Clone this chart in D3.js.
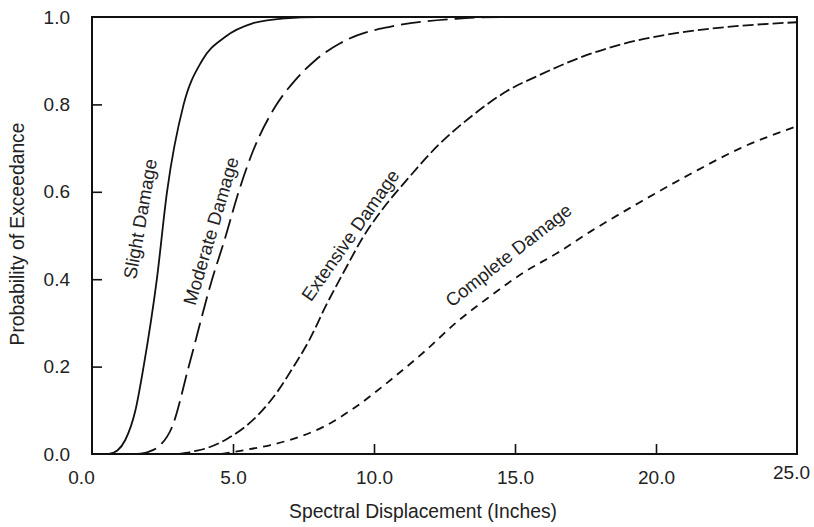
<!DOCTYPE html>
<html>
<head>
<meta charset="utf-8">
<script src="https://cdn.jsdelivr.net/npm/d3@7"></script>
<style>
	body { margin: 0; background: #fff; }
	svg text { font-family: "Liberation Sans", Arial, sans-serif; fill: #222; }
	.curve { fill: none; stroke: #111; stroke-width: 1.8; }
	.frame { fill: none; stroke: #111; stroke-width: 2; }
	.tick line { stroke: #111; stroke-width: 1.6; }
</style>
</head>
<body>
<svg id="chart"></svg>
<script>
// values (spectral displacement in inches, probability)
const slightSd = [0.6, 0.9, 1.18, 1.54, 1.83, 2.3, 2.66, 3.25, 3.9, 4.73, 5.67, 6.86, 8.0, 25];
const slightP  = [0, 0.008, 0.032, 0.10, 0.2, 0.4, 0.6, 0.8, 0.9, 0.955, 0.985, 0.997, 1.0, 1.0];

const moderateSd = [1.6, 2.0, 2.36, 2.84, 3.43, 4.26, 4.7, 5.2, 5.72, 6.5, 7.2, 7.9, 8.8, 9.4, 10.6, 12.9, 14.5, 25];
const moderateP  = [0, 0.005, 0.017, 0.062, 0.2, 0.4, 0.49, 0.6, 0.695, 0.795, 0.855, 0.9, 0.94, 0.958, 0.978, 0.996, 1.0, 1.0];

const extensiveSd = [3.1, 3.6, 4.1, 4.8, 5.9, 6.6, 7.1, 7.7, 8.3, 9.0, 9.6, 10.3, 11.2, 12.3, 13.5, 14.7, 15.9, 17.3, 18.8, 20.6, 22.5, 25];
const extensiveP  = [0, 0.006, 0.014, 0.035, 0.09, 0.145, 0.195, 0.26, 0.34, 0.425, 0.495, 0.56, 0.63, 0.708, 0.775, 0.83, 0.868, 0.907, 0.938, 0.962, 0.977, 0.988];

const completeSd = [4.6, 5.5, 6.3, 7.0, 8.2, 9.4, 10.6, 11.8, 12.9, 14.1, 15.3, 16.5, 17.7, 19.4, 21.2, 23.0, 25.0];
const completeP  = [0, 0.01, 0.02, 0.032, 0.062, 0.11, 0.17, 0.235, 0.30, 0.36, 0.415, 0.46, 0.51, 0.575, 0.64, 0.70, 0.75];

const xTicks = [0, 5, 10, 15, 20, 25];
const yTicks = [0, 0.2, 0.4, 0.6, 0.8, 1.0];

const curveNames = ["Slight Damage", "Moderate Damage", "Extensive Damage", "Complete Damage"];

function init() {
	let width = 814, height = 527;
	let margin = {top: 17, right: 17, bottom: 73, left: 92};

	let svg = d3.select("#chart")
		.attr("width", width)
		.attr("height", height);

	let x = d3.scaleLinear().domain([0, 25]).range([margin.left, width - margin.right]);
	let y = d3.scaleLinear().domain([0, 1]).range([height - margin.bottom, margin.top]);

	let curves = [
		{name: curveNames[0], sd: slightSd, p: slightP, dash: null,
			label: {sd: 2.0, p: 0.535, angle: -80}},
		{name: curveNames[1], sd: moderateSd, p: moderateP, dash: "20,7",
			label: {sd: 4.5, p: 0.505, angle: -73.5}},
		{name: curveNames[2], sd: extensiveSd, p: extensiveP, dash: "11,4",
			label: {sd: 9.4, p: 0.49, angle: -55}},
		{name: curveNames[3], sd: completeSd, p: completeP, dash: "8,6",
			label: {sd: 14.95, p: 0.44, angle: -38}}
	];

	let line = d3.line()
		.x(d => x(d[0]))
		.y(d => y(d[1]))
		.curve(d3.curveMonotoneX);

	svg.selectAll("path.curve")
		.data(curves)
		.enter().append("path")
		.attr("class", "curve")
		.attr("d", d => line(d.sd.map((v, i) => [v, d.p[i]])))
		.attr("stroke-dasharray", d => d.dash);

	// frame
	svg.append("rect")
		.attr("class", "frame")
		.attr("x", x(0))
		.attr("y", y(1))
		.attr("width", x(25) - x(0))
		.attr("height", y(0) - y(1));

	// axes, ticks pointing inward
	let xAxis = svg.append("g")
		.attr("transform", `translate(0,${y(0)})`)
		.call(d3.axisBottom(x).tickValues(xTicks).tickSizeInner(-10).tickSizeOuter(0).tickPadding(17).tickFormat(d3.format(".1f")));
	xAxis.select(".domain").remove();
	xAxis.selectAll(".tick line").filter(d => d === 0 || d === 25).remove();
	xAxis.selectAll(".tick text")
		.style("font-size", "19px")
		.attr("dx", d => d === 0 ? -11 : (d === 25 ? -6 : 0))
		.attr("dy", d => d === 25 ? "0.4em" : "0.71em");

	let yAxis = svg.append("g")
		.attr("transform", `translate(${x(0)},0)`)
		.call(d3.axisLeft(y).tickValues(yTicks).tickSizeInner(-10).tickSizeOuter(0).tickPadding(22).tickFormat(d3.format(".1f")));
	yAxis.select(".domain").remove();
	yAxis.selectAll(".tick line").filter(d => d === 0 || d === 1).remove();
	yAxis.selectAll(".tick text").style("font-size", "19px");

	// curve labels
	svg.selectAll("text.clabel")
		.data(curves)
		.enter().append("text")
		.attr("class", "clabel")
		.attr("text-anchor", "middle")
		.attr("dy", "-0.1em")
		.attr("transform", d => `translate(${x(d.label.sd)},${y(d.label.p)}) rotate(${d.label.angle})`)
		.style("font-size", "18.5px")
		.text(d => d.name);

	// axis titles
	svg.append("text")
		.attr("x", 423)
		.attr("y", 518)
		.attr("text-anchor", "middle")
		.style("font-size", "19.3px")
		.text("Spectral Displacement (Inches)");

	svg.append("text")
		.attr("transform", `translate(24,234) rotate(-90)`)
		.attr("text-anchor", "middle")
		.style("font-size", "19.3px")
		.text("Probability of Exceedance");
}

init();
</script>
</body>
</html>
